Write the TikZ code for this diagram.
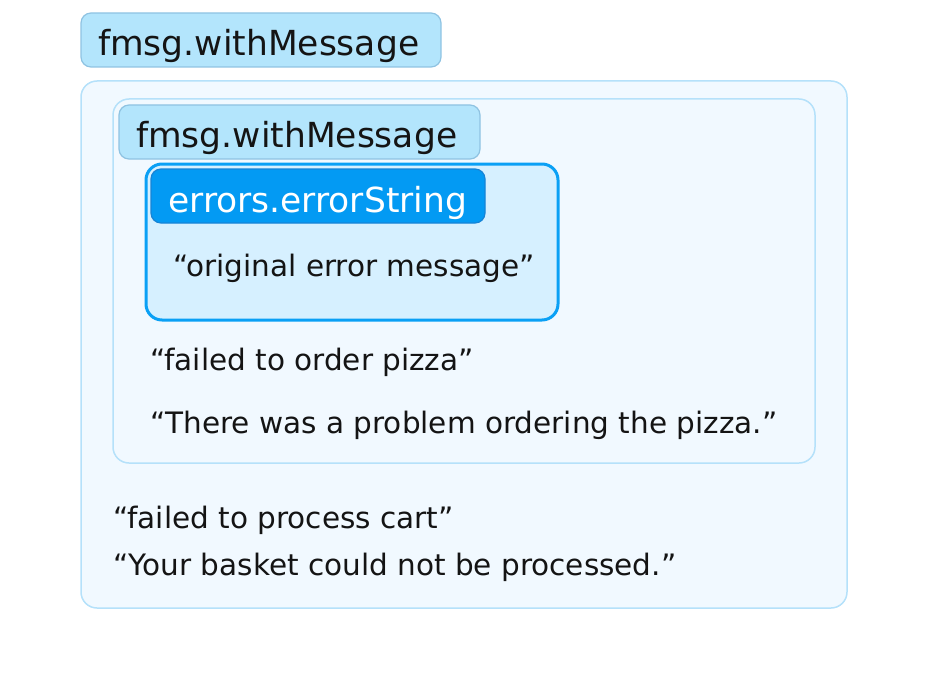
\documentclass[tikz,border=0pt]{standalone}
\usepackage{fontspec}
\setmainfont{DejaVu Sans}
\definecolor{tagfill}{HTML}{B3E5FC}
\definecolor{tagline}{HTML}{8FC3E2}
\definecolor{boxfill}{HTML}{F1F9FF}
\definecolor{boxline}{HTML}{B5E1FA}
\definecolor{errfill}{HTML}{D6F0FF}
\definecolor{errline}{HTML}{0AA0F5}
\definecolor{errtag}{HTML}{039AF3}
\definecolor{errtagline}{HTML}{1684D6}
\definecolor{ink}{HTML}{141414}
\begin{document}
\begin{tikzpicture}[x=1pt,y=-1pt,
  tag/.style={draw=tagline,fill=tagfill,line width=1.2pt,rounded corners=10pt},
  frame/.style={draw=boxline,fill=boxfill,line width=1.5pt,rounded corners=16pt},
  errbox/.style={draw=errline,fill=errfill,line width=3pt,rounded corners=16pt},
  errtagbox/.style={draw=errtagline,fill=errtag,line width=1.2pt,rounded corners=10pt},
  label/.style={anchor=base west,inner sep=0pt,text=ink,font=\fontsize{34.5}{40}\selectfont},
  msg/.style={anchor=base west,inner sep=0pt,text=ink,font=\fontsize{29.5}{34}\selectfont}]
  \useasboundingbox (0,0) rectangle (928,690);
  % Outer wrapper
  \draw[tag] (81,13) rectangle (441,67);
  \node[label] (outertag) at (98,56) {fmsg.withMessage};
  \draw[frame] (81,81) rectangle (847,608);
  % Inner wrapper
  \draw[frame] (113,99) rectangle (815,463);
  \draw[tag] (119,105) rectangle (480,159);
  \node[label] (innertag) at (136,147) {fmsg.withMessage};
  % Original error
  \draw[errbox] (146,164) rectangle (558,320);
  \draw[errtagbox] (151,169) rectangle (485,223);
  \node[label,text=white] (errtag) at (168,212) {errors.errorString};
  \node[msg] (original) at (173,276) {“original error message”};
  % Inner messages
  \node[msg] (pizzamsg) at (150,370) {“failed to order pizza”};
  \node[msg] (pizzauser) at (150,433) {“There was a problem ordering the pizza.”};
  % Outer messages
  \node[msg] (cartmsg) at (113,528) {“failed to process cart”};
  \node[msg] (cartuser) at (113,575) {“Your basket could not be processed.”};
\end{tikzpicture}
\end{document}
